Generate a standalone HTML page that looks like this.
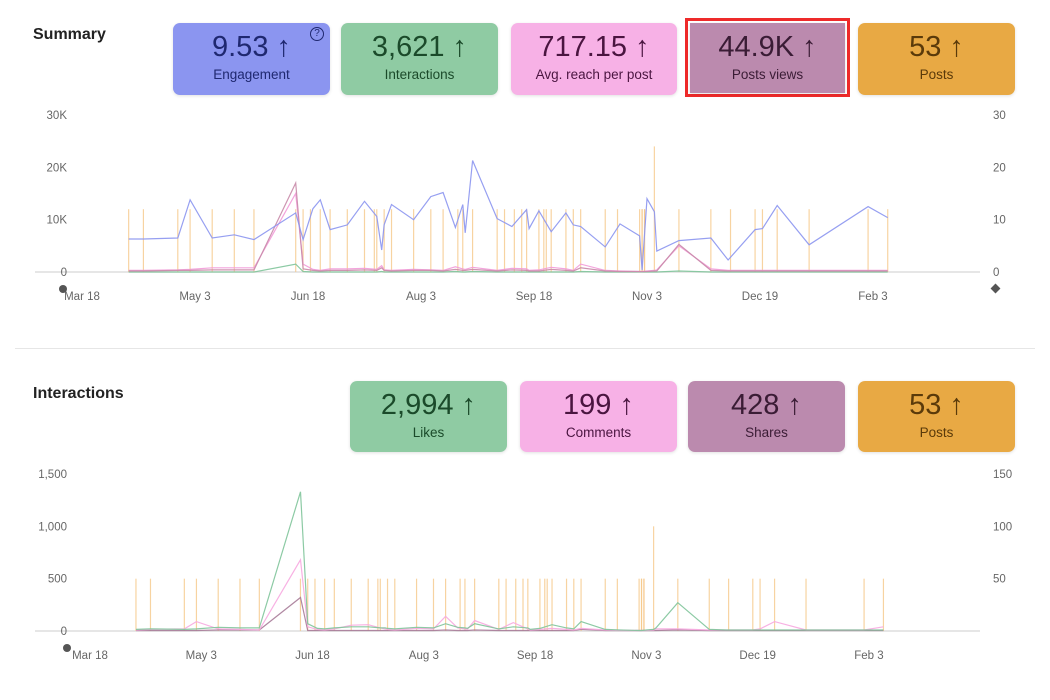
<!DOCTYPE html>
<html><head><meta charset="utf-8">
<style>
body{margin:0;background:#fff;font-family:"Liberation Sans",sans-serif;width:1050px;height:700px;overflow:hidden;position:relative}
.title{position:absolute;font-size:16px;font-weight:bold;color:#222}
.card{position:absolute;border-radius:7px;text-align:center;box-shadow:0 1px 3px rgba(0,0,0,0.12)}
.card .num{font-size:29px;margin-top:8px;line-height:32px}
.card .lbl{font-size:13.5px;margin-top:4px}
.hl{position:absolute;border:3px solid #ee2a2a;box-sizing:border-box}
svg{position:absolute;left:0;top:0}
</style></head><body>
<div class="title" style="left:33px;top:26px">Summary</div>
<div class="card" style="left:173px;top:23px;width:157px;height:72px;background:#8b95f0;color:#1f2870"><div class="num">9.53 ↑</div><div class="lbl">Engagement</div>
<div style="position:absolute;right:6px;top:4px;width:12px;height:12px;border:1.3px solid #1f2870;border-radius:50%;font-size:10px;line-height:12px">?</div></div>
<div class="card" style="left:341px;top:23px;width:157px;height:72px;background:#8fcba3;color:#1b4a2a"><div class="num">3,621 ↑</div><div class="lbl">Interactions</div></div>
<div class="card" style="left:511px;top:23px;width:166px;height:72px;background:#f7b1e6;color:#4a1540"><div class="num">717.15 ↑</div><div class="lbl">Avg. reach per post</div></div>
<div class="hl" style="left:685px;top:18px;width:165px;height:79px"></div>
<div class="card" style="left:690px;top:23px;width:155px;height:70px;border-radius:0;background:#bb8aae;color:#3a1c35"><div class="num">44.9K ↑</div><div class="lbl">Posts views</div></div>
<div class="card" style="left:858px;top:23px;width:157px;height:72px;background:#e8a944;color:#5a3a0a"><div class="num">53 ↑</div><div class="lbl">Posts</div></div>

<div style="position:absolute;left:15px;top:348px;width:1020px;height:1px;background:#e6e6e6"></div>

<div class="title" style="left:33px;top:385px">Interactions</div>
<div class="card" style="left:350px;top:381px;width:157px;height:71px;background:#8fcba3;color:#1b4a2a"><div class="num">2,994 ↑</div><div class="lbl">Likes</div></div>
<div class="card" style="left:520px;top:381px;width:157px;height:71px;background:#f7b1e6;color:#4a1540"><div class="num">199 ↑</div><div class="lbl">Comments</div></div>
<div class="card" style="left:688px;top:381px;width:157px;height:71px;background:#bb8aae;color:#3a1c35"><div class="num">428 ↑</div><div class="lbl">Shares</div></div>
<div class="card" style="left:858px;top:381px;width:157px;height:71px;background:#e8a944;color:#5a3a0a"><div class="num">53 ↑</div><div class="lbl">Posts</div></div>

<svg id="chart" width="1050" height="700"></svg>
<script>
const xTickLabels=["Mar 18","May 3","Jun 18","Aug 3","Sep 18","Nov 3","Dec 19","Feb 3"];
const xTickDays=[0,46,92,138,184,230,276,322];
const postDays=[19,25,39,44,53,62,70,87,90,93,97,101,108,115,119,120,123,126,135,142,147,153,155,159,169,172,176,179,181,186,188,189,191,197,200,203,213,218,227,228,228,229,229,233,243,256,264,274,277,283,296,320,328];
const postCounts=[1,1,1,1,1,1,1,1,1,1,1,1,1,1,1,1,1,1,1,1,1,1,1,1,1,1,1,1,1,1,1,1,1,1,1,1,1,1,1,1,1,1,1,2,1,1,1,1,1,1,1,1,1];
const lineDays=[19,25,39,44,53,62,70,87,90,94,97,101,108,115,120,122,123,126,135,142,147,152,155,156,159,169,175,181,182,186,191,197,200,203,213,219,227,228,230,233,234,243,256,263,274,277,283,296,320,328];
const postViews=[6.3,6.3,6.5,13.8,6.5,7.1,6.2,11.3,6.2,12.1,13.8,8.1,9.0,13.5,10.6,4.2,9.0,12.9,10.0,14.4,15.2,8.5,12.9,7.5,21.3,10.2,8.7,11.9,8.3,11.7,7.7,11.3,9.0,8.7,4.8,9.2,6.9,0.4,14.0,11.5,4.0,6.0,6.5,2.3,8.1,8.3,12.7,5.2,12.5,10.4];
const reach=[0.3,0.3,0.4,0.5,0.8,0.8,0.8,15.0,1.5,0.5,0.3,0.6,0.6,0.7,0.5,1.2,0.4,0.3,0.5,0.4,0.3,1.0,0.6,0.5,0.9,0.3,0.7,0.6,0.3,0.4,0.9,0.6,0.3,1.5,0.3,0.2,0.1,0.1,0.2,0.3,0.4,5.0,0.6,0.3,0.3,0.3,0.3,0.3,0.3,0.3];
const interactionsK=[0.2,0.2,0.3,0.3,0.4,0.4,0.4,17.0,0.6,0.3,0.2,0.3,0.3,0.4,0.3,0.8,0.3,0.2,0.3,0.3,0.2,0.5,0.3,0.3,0.5,0.2,0.4,0.3,0.2,0.2,0.5,0.3,0.2,0.8,0.2,0.1,0.1,0.1,0.1,0.2,0.2,5.3,0.3,0.2,0.2,0.2,0.2,0.2,0.2,0.2];
const engagementK=[0,0,0,0,0,0,0,1.5,0.1,0,0,0,0,0,0,0.1,0,0,0,0,0,0.1,0,0,0.1,0,0,0,0,0,0,0,0,0.1,0,0,0,0,0,0,0,0.2,0,0,0,0,0,0,0,0];
const likes=[15,20,15,20,35,30,30,1330,70,25,20,30,40,40,30,30,25,20,35,30,70,35,30,25,70,20,40,30,15,25,60,30,20,90,15,10,5,5,10,15,30,270,15,10,10,10,10,10,10,10];
const comments=[10,15,20,90,20,15,10,680,40,15,10,20,55,60,30,20,15,10,25,20,140,30,20,15,100,15,80,20,10,15,25,15,10,25,10,5,5,5,5,10,20,20,10,10,10,20,90,10,10,40];
const shares=[5,5,5,5,10,10,10,320,5,5,5,5,5,5,5,5,5,5,5,5,10,5,5,5,10,5,5,5,5,5,5,5,5,15,5,5,5,5,5,5,5,10,5,5,5,5,5,5,5,5];
const topLeftTicks=["0","10K","20K","30K"];
const topRightTicks=["0","10","20","30"];
const botLeftTicks=["0","500","1,000","1,500"];
const botRightTicks=["50","100","150"];

const svg=document.getElementById('chart');
const NS='http://www.w3.org/2000/svg';
function mk(tag,attrs,name,parent){const e=document.createElementNS(NS,tag);for(const k in attrs)e.setAttribute(k,attrs[k]);


(parent||svg).appendChild(e);return e;}
function txt(x,y,s,anchor,name){const t=mk('text',{x:x,y:y,'font-size':11.5,fill:'#666','text-anchor':anchor,'font-family':'Liberation Sans, sans-serif'},name);t.textContent=s;return t;}

function chart(c){
  const xs=d=>c.x0+d*c.ppd;
  const yl=v=>c.base-v/c.lmax*c.h;
  const yr=v=>c.base-v/c.rmax*c.h;
  mk('line',{x1:c.lineStart,x2:980,y1:c.base,y2:c.base,stroke:'#ddd','stroke-width':1.5},c.p+'-baseline');
  c.lt.forEach((s,i)=>txt(67,yl(i*c.lmax/3)+4,s,'end',c.p+'-y-left-tick'));
  c.rt.forEach((s,i)=>txt(993,yr(c.rv[i])+4,s,'start',c.p+'-y-right-tick'));
  xTickLabels.forEach((s,i)=>txt(xs(xTickDays[i]),c.base+28,s,'middle',c.p+'-x-tick'));
  postDays.forEach((d,i)=>mk('line',{x1:xs(d),x2:xs(d),y1:c.base,y2:yr(postCounts[i]*c.postUnit),stroke:'#f6c98a','stroke-width':1.2,opacity:0.8},c.p+'-post-bar'));
  c.series.forEach(s=>{
    const pts=lineDays.map((d,i)=>xs(d).toFixed(1)+','+yl(s.vals[i]).toFixed(1)).join(' ');
    mk('polyline',{points:pts,fill:'none',stroke:s.color,'stroke-width':1.2,opacity:0.9},c.p+'-'+s.name+'-line');
  });
  mk('circle',{cx:c.dotX,cy:c.base+17,r:4,fill:'#555'},c.p+'-range-handle-left');
}
chart({p:'summary',x0:82,ppd:2.4565,base:272,h:157,lmax:30,rmax:30,lineStart:35,postUnit:12,
  lt:topLeftTicks,rt:topRightTicks,rv:[0,10,20,30],dotX:63,
  series:[{name:'engagement',vals:engagementK,color:'#7fc49a'},{name:'reach',vals:reach,color:'#f29ad8'},{name:'interactions',vals:interactionsK,color:'#c88aa8'},{name:'views',vals:postViews,color:'#8b95f0'}]});
mk('rect',{x:992,y:285,width:7,height:7,fill:'#555',transform:'rotate(45 995.5 288.5)'},'summary-range-handle-right');
chart({p:'interactions',x0:90,ppd:2.419,base:631,h:157,lmax:1500,rmax:150,lineStart:35,postUnit:50,
  lt:botLeftTicks,rt:botRightTicks,rv:[50,100,150],dotX:67,
  series:[{name:'shares',vals:shares,color:'#a77b98'},{name:'comments',vals:comments,color:'#f7a9e0'},{name:'likes',vals:likes,color:'#7fc49a'}]});
</script>
</body></html>
